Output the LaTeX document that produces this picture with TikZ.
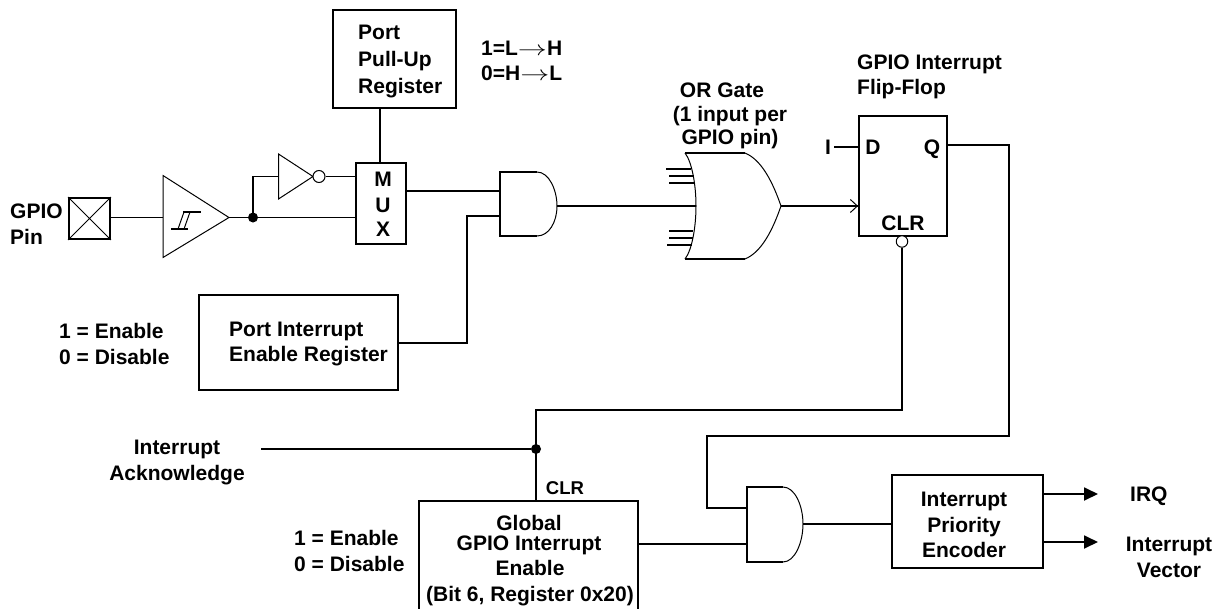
\documentclass[tikz,border=0pt]{standalone}
\usepackage{fontspec}
\setmainfont{Liberation Sans}
\usetikzlibrary{arrows.meta}
\tikzset{
  conn/.style={line width=1.8pt},
  gate/.style={line width=1pt},
  boxn/.style={draw,line width=1.8pt,inner sep=0pt},
  lab/.style={inner sep=0pt,align=center,font=\fontsize{21}{25.5}\selectfont\bfseries},
  labl/.style={lab,align=left,anchor=west},
  jdot/.style={circle,fill=black,inner sep=0pt,minimum size=10pt},
  bub/.style={circle,draw,fill=white,line width=1pt,inner sep=0pt,minimum size=12pt},
  arr/.style={conn,-{Triangle[length=14pt,width=13pt]}}
}
\newcommand{\longarr}{\scalebox{1.4}[1]{$\rightarrow$}}
\begin{document}
\begin{tikzpicture}[x=1pt,y=-1pt]
\useasboundingbox (0,0) rectangle (1218,608);
% boxes
\node[boxn,minimum width=41pt,minimum height=41pt] (pin) at (89.5,218.5) {};
\node[boxn,minimum width=50pt,minimum height=81pt] (mux) at (381,203.5) {};
\node[boxn,minimum width=123pt,minimum height=98pt] (pull) at (394.5,59) {};
\node[boxn,minimum width=199pt,minimum height=95pt] (pie) at (298.5,342.5) {};
\node[boxn,minimum width=88pt,minimum height=120pt] (ff) at (903,176) {};
\node[boxn,minimum width=219pt,minimum height=109pt] (glob) at (528.5,555.5) {};
\node[boxn,minimum width=151pt,minimum height=93pt] (enc) at (967.5,521.5) {};
% pin cross
\draw[gate] (pin.north west) -- (pin.south east) (pin.north east) -- (pin.south west);
% buffer
\draw[gate] (163,175.5) -- (163,257.5) -- (229,217.5) -- cycle;
\coordinate (bufin) at (163,217.5);
\coordinate (bufout) at (229,217.5);
\draw[conn] (171,229) -- (188,229) (183,212) -- (201,212);
\draw[gate] (178,229) -- (184,212) (184,229) -- (190,212);
% inverter
\draw[gate] (278.5,154) -- (278.5,199) -- (313,176.5) -- cycle;
\coordinate (invin) at (278.5,176.5);
\node[bub] (invb) at (319,176.5) {};
% and 1
\draw[conn] (537,172) -- (500,172) -- (500,236) -- (537,236);
\draw[gate] (537,172) .. controls (549,172) and (557,190) .. (557,206) .. controls (557,222) and (549,236) .. (537,236);
\coordinate (a1o) at (557,206);
\coordinate (a1i1) at (500,191);
\coordinate (a1i2) at (500,216);
% or
\draw[conn] (685,153) -- (745,153) (685,259) -- (745,259);
\draw[gate] (685,153) .. controls (692,162) and (696,185) .. (696,206) .. controls (696,227) and (692,250) .. (685,259);
\draw[gate] (745,153) .. controls (762,160) and (773,183) .. (781,206) .. controls (773,229) and (762,252) .. (745,259);
\coordinate (oi) at (696,206);
\coordinate (oo) at (781,206);
\draw[conn] (666,169) -- (691,169) (669,176) -- (694,176) (669,183) -- (694,183)
            (669,231) -- (693,231) (669,238) -- (693,238) (667,245) -- (692,245);
% and 2
\draw[conn] (783,487) -- (747,487) -- (747,562) -- (783,562);
\draw[gate] (783,487) .. controls (795,487) and (803,506) .. (803,524) .. controls (803,542) and (795,562) .. (783,562);
\coordinate (a2o) at (803,524);
\coordinate (a2i1) at (747,508);
\coordinate (a2i2) at (747,544);
% junctions and bubble
\node[jdot] (j1) at (253,217.5) {};
\node[jdot] (j2) at (536,449) {};
\node[bub,minimum size=11.5pt] (clrb) at (902,241.5) {};
\coordinate (ackend) at (261,449);
\coordinate (iend) at (834,147);
\coordinate (irqend) at (1098,494);
\coordinate (vecend) at (1098,542);
% connectors
\draw[conn] (pin.east|-bufin) -- (bufin);
\draw[conn] (bufout) -- (j1) -- (mux.west|-j1);
\draw[conn] (j1.center) -- (j1.center|-invin) -- (invin);
\draw[conn] (invb.east) -- (mux.west|-invb);
\draw[conn] (380,108) -- (mux.north-|380,0);
\draw[conn] (mux.east|-a1i1) -- (a1i1);
\draw[conn] (pie.east|-0,343) -- (467,343) -- (467,216) -- (a1i2);
\draw[conn] (a1o) -- (oi);
\draw[conn] (oo) -- (ff.west|-oo);
\draw[gate,-{Straight Barb[length=7pt,width=13pt]}] (845,206) -- (ff.west|-oo);
\draw[conn] (iend) -- (ff.west|-iend);
\draw[conn] (clrb.south) -- (902,410) -- (536,410) -- (j2.center) -- (glob.north-|j2);
\draw[conn] (ackend) -- (j2);
\draw[conn] (ff.east|-0,145) -- (1009,145) -- (1009,436) -- (707,436) -- (707,508) -- (a2i1);
\draw[conn] (glob.east|-a2i2) -- (a2i2);
\draw[conn] (a2o) -- (enc.west|-a2o);
\draw[arr] (enc.east|-irqend) -- (irqend);
\draw[arr] (enc.east|-vecend) -- (vecend);
% labels
\node[labl] (lpin) at (10,224) {GPIO\\Pin};
\node[labl] (tpull) at (358,61.5) {Port\\[1.5pt]Pull-Up\\[1.5pt]Register};
\node[lab] (tm) at (383,179) {M};
\node[lab] (tu) at (383,205) {U};
\node[lab] (tx) at (383,229.5) {X};
\node[labl] (l1) at (481,61) {1=L\longarr H\\0=H\longarr L};
\node[lab] (lor) at (722,90) {OR Gate};
\node[lab] (lor2) at (730,128) {(1 input per\\[-2.5pt]GPIO pin)};
\node[labl] (lff) at (857,77) {GPIO Interrupt\\Flip-Flop};
\node[lab] (li) at (828,147) {I};
\node[lab] (ld) at (873,147) {D};
\node[lab] (lq) at (932,149) {Q};
\node[lab] (lclr) at (903,223) {CLR};
\node[labl] (len1) at (59,344) {1 = Enable\\0 = Disable};
\node[labl] (tpie) at (229,344) {Port Interrupt\\Enable Register};
\node[lab] (lack) at (177,462.5) {Interrupt\\[0.5pt]Acknowledge};
\node[lab,font=\fontsize{18.5}{22}\selectfont\bfseries] (lclr2) at (565,488) {CLR};
\node[labl] (len2) at (294,551) {1 = Enable\\0 = Disable};
\node[lab] (tglob1) at (529,535) {Global\\[-5pt]GPIO Interrupt};
\node[lab] (tglob2) at (530,583) {Enable\\(Bit 6, Register 0x20)};
\node[lab] (tenc) at (964,525) {Interrupt\\Priority\\Encoder};
\node[labl] (lirq) at (1130,496) {IRQ};
\node[lab] (lvec) at (1169,557.5) {Interrupt\\[1pt]Vector};
\end{tikzpicture}
\end{document}
